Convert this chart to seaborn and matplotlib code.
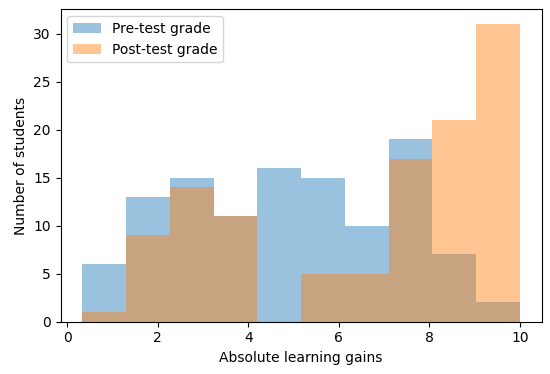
import numpy as np
import pandas as pd
import matplotlib
matplotlib.use("Agg")
import matplotlib.pyplot as plt
import seaborn as sns

# Histogram counts (10 equal bins from ~0.33 to 10)
bin_lo, bin_hi, n_bins = 0.333, 10.0, 10
pre_counts = [6, 13, 15, 11, 16, 15, 10, 19, 7, 2]
post_counts = [1, 9, 14, 11, 0, 5, 5, 17, 21, 31]

edges = np.linspace(bin_lo, bin_hi, n_bins + 1)
centers = (edges[:-1] + edges[1:]) / 2
pre_df = pd.DataFrame({"gain": centers, "count": pre_counts})
post_df = pd.DataFrame({"gain": centers, "count": post_counts})

fig, ax = plt.subplots(figsize=(5.5, 3.74), dpi=100)
sns.histplot(data=pre_df, x="gain", weights="count", bins=n_bins,
             binrange=(bin_lo, bin_hi), color="tab:blue",
             alpha=0.45, linewidth=0, label="Pre-test grade", ax=ax)
sns.histplot(data=post_df, x="gain", weights="count", bins=n_bins,
             binrange=(bin_lo, bin_hi), color="tab:orange",
             alpha=0.45, linewidth=0, label="Post-test grade", ax=ax)

ax.set_xlabel("Absolute learning gains")
ax.set_ylabel("Number of students")
ax.legend(loc="upper left")
fig.subplots_adjust(left=0.11, right=0.985, top=0.975, bottom=0.14)
fig.savefig("out.png", dpi=100)
